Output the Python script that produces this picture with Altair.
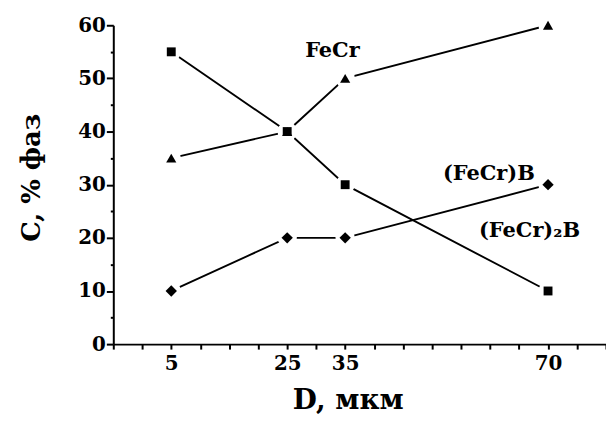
import altair as alt
import pandas as pd

# Data
D = [5, 25, 35, 70]
fecr2b = [55, 40, 30, 10]   # squares, (FeCr)2B
fecr = [35, 40, 50, 60]     # triangles, FeCr
fecrb = [10, 20, 20, 30]    # diamonds, (FeCr)B

series_names = ["(FeCr)₂B", "FeCr", "(FeCr)B"]
series_vals = [fecr2b, fecr, fecrb]
series_shapes = ["square", "triangle-up", "diamond"]
series_sizes = [80, 130, 95]

label_text = ["FeCr", "(FeCr)B", "(FeCr)₂B"]
label_x = [32.8, 59.8, 66.8]
label_y = [55.2, 32.0, 21.3]

x_ticks = list(range(-5, 81, 5))
x_labels = [5, 25, 35, 70]
y_ticks = list(range(0, 61, 5))

rows = []
for name, vals in zip(series_names, series_vals):
    for d, v in zip(D, vals):
        rows.append({"series": name, "D": d, "C": v})
df = pd.DataFrame(rows)
labels = pd.DataFrame({"text": label_text, "D": label_x, "C": label_y})

FONT = "DejaVu Serif"

label_test = " || ".join("datum.value == %d" % v for v in x_labels)

x_enc = alt.X(
    "D:Q",
    scale=alt.Scale(domain=[-5, 80], nice=False, zero=False),
    axis=alt.Axis(
        values=x_ticks,
        labelExpr="(" + label_test + ") ? datum.label : ''",
        labelOverlap=False,
        labelFlush=False,
        tickSize=5,
        labelPadding=5,
        title="D, мкм",
        titleX=236,
        titleY=57,
        titleAlign="center",
        titleBaseline="middle",
        titleFontSize=28,
    ),
)
y_enc = alt.Y(
    "C:Q",
    scale=alt.Scale(domain=[0, 60], nice=False),
    axis=alt.Axis(
        values=y_ticks,
        labelExpr="datum.value % 10 == 0 ? datum.label : ''",
        labelOverlap=False,
        labelFlush=False,
        tickSize={"condition": {"test": "datum.value % 10 == 0", "value": 7}, "value": 3},
        labelPadding=1,
        title="C, % фаз",
        titleX=-82,
        titleY=153,
        titleAngle=-90,
        titleAlign="center",
        titleBaseline="middle",
        titleFontSize=26,
    ),
)

base = alt.Chart(df).encode(x=x_enc, y=y_enc)

lines = base.mark_line(color="black", strokeWidth=1.9).encode(detail="series:N")
halo = base.mark_point(shape="circle", filled=True, color="white", opacity=1, size=380)
points = base.mark_point(filled=True, color="black", opacity=1).encode(
    shape=alt.Shape(
        "series:N",
        scale=alt.Scale(domain=series_names, range=series_shapes),
        legend=None,
    ),
    size=alt.Size(
        "series:N",
        scale=alt.Scale(domain=series_names, range=series_sizes),
        legend=None,
    ),
)
texts = alt.Chart(labels).mark_text(
    font=FONT, fontWeight="bold", fontSize=21, color="black"
).encode(x=x_enc, y=y_enc, text="text:N")

chart = (
    alt.layer(lines, halo, points, texts)
    .properties(
        width=496,
        height=321,
        autosize=alt.AutoSizeParams(type="none"),
        padding={"left": 106, "top": 16, "right": 0, "bottom": 74},
    )
    .configure_view(stroke=None)
    .configure_axis(
        grid=False,
        domainColor="black",
        domainWidth=2,
        tickColor="black",
        tickWidth=2,
        labelFont=FONT,
        labelFontWeight="bold",
        labelFontSize=20,
        labelColor="black",
        titleFont=FONT,
        titleFontWeight="bold",
        titleColor="black",
    )
)

chart.save("out.html", embed_options={"renderer": "svg", "actions": False})
